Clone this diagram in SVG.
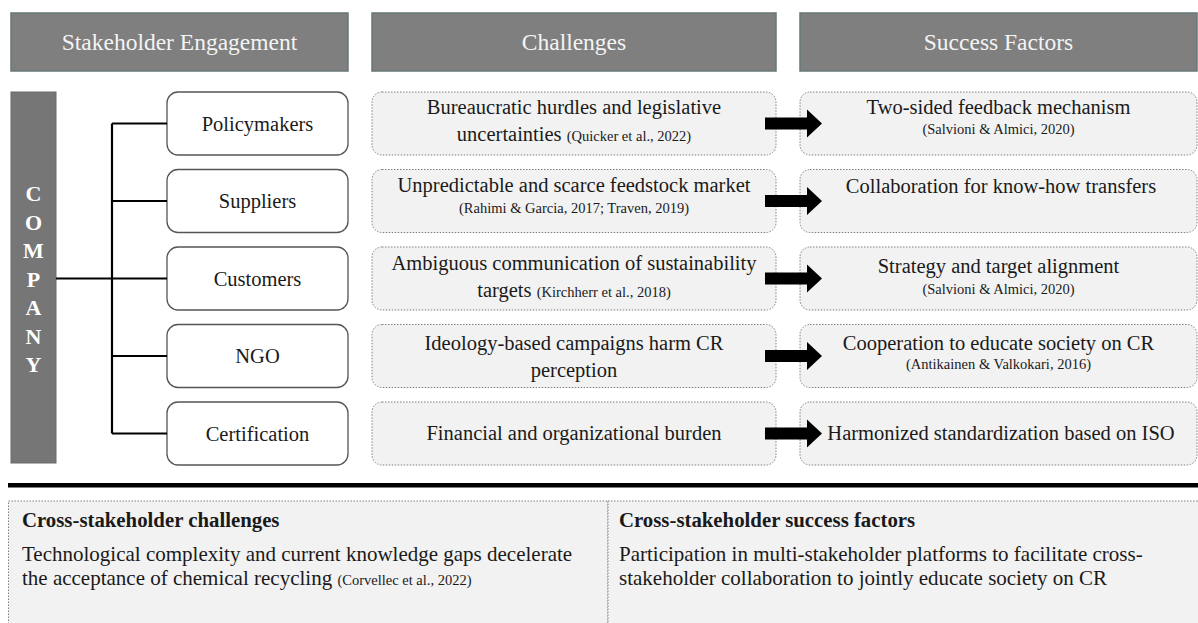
<svg xmlns="http://www.w3.org/2000/svg" width="1198" height="623" viewBox="0 0 1198 623">
  <style>
    text { font-family: "Liberation Serif", Tinos, "Times New Roman", "DejaVu Serif", serif; fill: #1a1a1a; }
    .hdr { fill: #7f7f7f; stroke: #687878; stroke-width: 1.5; }
    .hdr-t { fill: #f4f4f4; font-size: 23.5px; text-anchor: middle; }
    .co { fill: #767676; stroke: #6a6a6a; stroke-width: 1; }
    .co-t { fill: #ffffff; font-size: 22px; font-weight: bold; text-anchor: middle; }
    .sh { fill: #ffffff; stroke: #555555; stroke-width: 1.3; }
    .sh-t { font-size: 20.5px; text-anchor: middle; }
    .cell { fill: #f2f2f2; stroke: #808080; stroke-width: 1; stroke-dasharray: 1.5 1.5; }
    .body { font-size: 20.5px; text-anchor: middle; }
    .cite { font-size: 14.5px; }
    .citec { font-size: 14.5px; text-anchor: middle; }
    .tree { fill: none; stroke: #000000; stroke-width: 2.2; }
    .arrow { fill: #000000; }
    .bh { font-size: 20.8px; font-weight: bold; }
    .bt { font-size: 21px; }
  </style>

  <!-- column headers -->
  <g id="header-engagement">
    <rect class="hdr" x="11" y="13" width="337" height="58"/>
    <text class="hdr-t" x="179.5" y="50">Stakeholder Engagement</text>
  </g>
  <g id="header-challenges">
    <rect class="hdr" x="372" y="13" width="404" height="58"/>
    <text class="hdr-t" x="574" y="50">Challenges</text>
  </g>
  <g id="header-success">
    <rect class="hdr" x="800" y="13" width="397" height="58"/>
    <text class="hdr-t" x="998.5" y="50">Success Factors</text>
  </g>

  <!-- company column -->
  <g id="company">
    <rect class="co" x="11" y="92" width="45" height="371"/>
    <text class="co-t" x="33.5" y="201">C</text>
    <text class="co-t" x="33.5" y="229.5">O</text>
    <text class="co-t" x="33.5" y="258">M</text>
    <text class="co-t" x="33.5" y="286.5">P</text>
    <text class="co-t" x="33.5" y="315">A</text>
    <text class="co-t" x="33.5" y="343.5">N</text>
    <text class="co-t" x="33.5" y="372">Y</text>
  </g>

  <!-- stakeholders -->
  <g id="policymakers">
    <rect class="sh" x="167" y="92" width="181" height="63" rx="11"/>
    <text class="sh-t" x="257.5" y="130.5">Policymakers</text>
  </g>
  <g id="suppliers">
    <rect class="sh" x="167" y="169.5" width="181" height="63" rx="11"/>
    <text class="sh-t" x="257.5" y="208">Suppliers</text>
  </g>
  <g id="customers">
    <rect class="sh" x="167" y="247" width="181" height="63" rx="11"/>
    <text class="sh-t" x="257.5" y="285.5">Customers</text>
  </g>
  <g id="ngo">
    <rect class="sh" x="167" y="324.5" width="181" height="63" rx="11"/>
    <text class="sh-t" x="257.5" y="363">NGO</text>
  </g>
  <g id="certification">
    <rect class="sh" x="167" y="402" width="181" height="63" rx="11"/>
    <text class="sh-t" x="257.5" y="440.5">Certification</text>
  </g>

  <!-- challenges -->
  <g id="challenge-policymakers">
    <rect class="cell" x="372" y="92" width="404" height="63" rx="10"/>
    <text class="body" x="574" y="113.5">Bureaucratic hurdles and legislative</text>
    <text class="body" x="574" y="141">uncertainties <tspan class="cite">(Quicker et al., 2022)</tspan></text>
  </g>
  <g id="challenge-suppliers">
    <rect class="cell" x="372" y="169.5" width="404" height="63" rx="10"/>
    <text class="body" x="574" y="192">Unpredictable and scarce feedstock market</text>
    <text class="citec" x="574" y="213">(Rahimi &amp; Garcia, 2017; Traven, 2019)</text>
  </g>
  <g id="challenge-customers">
    <rect class="cell" x="372" y="247" width="404" height="63" rx="10"/>
    <text class="body" x="574" y="270">Ambiguous communication of sustainability</text>
    <text class="body" x="574" y="297">targets <tspan class="cite">(Kirchherr et al., 2018)</tspan></text>
  </g>
  <g id="challenge-ngo">
    <rect class="cell" x="372" y="324.5" width="404" height="63" rx="10"/>
    <text class="body" x="574" y="350">Ideology-based campaigns harm CR</text>
    <text class="body" x="574" y="377">perception</text>
  </g>
  <g id="challenge-certification">
    <rect class="cell" x="372" y="402" width="404" height="63" rx="10"/>
    <text class="body" x="574" y="440">Financial and organizational burden</text>
  </g>

  <!-- success factors -->
  <g id="success-policymakers">
    <rect class="cell" x="800" y="92" width="397" height="63" rx="10"/>
    <text class="body" x="998.5" y="113.5">Two-sided feedback mechanism</text>
    <text class="citec" x="998.5" y="134">(Salvioni &amp; Almici, 2020)</text>
  </g>
  <g id="success-suppliers">
    <rect class="cell" x="800" y="169.5" width="397" height="63" rx="10"/>
    <text class="body" x="1001" y="193">Collaboration for know-how transfers</text>
  </g>
  <g id="success-customers">
    <rect class="cell" x="800" y="247" width="397" height="63" rx="10"/>
    <text class="body" x="998.5" y="273">Strategy and target alignment</text>
    <text class="citec" x="998.5" y="294">(Salvioni &amp; Almici, 2020)</text>
  </g>
  <g id="success-ngo">
    <rect class="cell" x="800" y="324.5" width="397" height="63" rx="10"/>
    <text class="body" x="998.5" y="350">Cooperation to educate society on CR</text>
    <text class="citec" x="998.5" y="369">(Antikainen &amp; Valkokari, 2016)</text>
  </g>
  <g id="success-certification">
    <rect class="cell" x="800" y="402" width="397" height="63" rx="10"/>
    <text class="body" x="1001" y="440">Harmonized standardization based on ISO</text>
  </g>

  <!-- connectors: company tree and block arrows -->
  <g id="connectors">
    <path class="tree" d="M56 278.5 H112 M112 123.5 V433.5 M112 123.5 H167 M112 201 H167 M112 278.5 H167 M112 356 H167 M112 433.5 H167"/>
    <polygon class="arrow" points="765,117.5 807,117.5 807,109.5 822,123.5 807,137.5 807,129.5 765,129.5"/>
    <polygon class="arrow" points="765,195 807,195 807,187 822,201 807,215 807,207 765,207"/>
    <polygon class="arrow" points="765,272.5 807,272.5 807,264.5 822,278.5 807,292.5 807,284.5 765,284.5"/>
    <polygon class="arrow" points="765,350 807,350 807,342 822,356 807,370 807,362 765,362"/>
    <polygon class="arrow" points="765,427.5 807,427.5 807,419.5 822,433.5 807,447.5 807,439.5 765,439.5"/>
  </g>

  <!-- separator -->
  <rect x="8" y="483" width="1190" height="4.5" fill="#000000"/>

  <!-- cross-stakeholder panels -->
  <g id="cross-challenges">
    <rect class="cell" x="8.5" y="501" width="599.5" height="140"/>
    <text class="bh" x="22" y="527">Cross-stakeholder challenges</text>
    <text class="bt" x="22" y="561">Technological complexity and current knowledge gaps decelerate</text>
    <text class="bt" x="22" y="585">the acceptance of chemical recycling <tspan class="cite">(Corvellec et al., 2022)</tspan></text>
  </g>
  <g id="cross-success">
    <rect class="cell" x="608" y="501" width="600" height="140"/>
    <text class="bh" x="619" y="527">Cross-stakeholder success factors</text>
    <text class="bt" x="619" y="561">Participation in multi-stakeholder platforms to facilitate cross-</text>
    <text class="bt" x="619" y="585">stakeholder collaboration to jointly educate society on CR</text>
  </g>
</svg>
